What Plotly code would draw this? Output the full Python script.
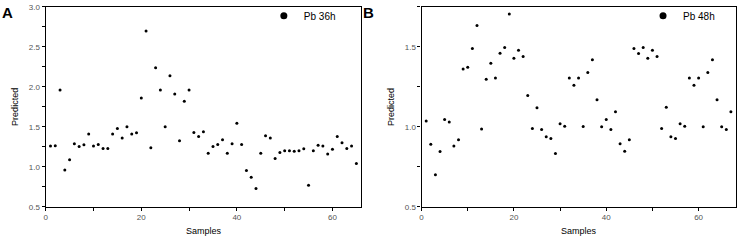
import plotly.graph_objects as go

# Panel A: Pb 36h
samples_a = list(range(1, 66))
pred_a = [1.26, 1.265, 1.96, 0.96, 1.09, 1.29, 1.255, 1.275, 1.41, 1.26,
          1.28, 1.23, 1.23, 1.41, 1.48, 1.36, 1.50, 1.41, 1.425, 1.86,
          2.70, 1.24, 2.24, 1.96, 1.50, 2.14, 1.91, 1.325, 1.82, 1.96,
          1.43, 1.38, 1.44, 1.17, 1.255, 1.28, 1.34, 1.17, 1.29, 1.545,
          1.28, 0.955, 0.87, 0.73, 1.17, 1.39, 1.36, 1.105, 1.18, 1.20,
          1.20, 1.195, 1.20, 1.225, 0.77, 1.20, 1.27, 1.26, 1.16, 1.22,
          1.38, 1.30, 1.23, 1.26, 1.04]

# Panel B: Pb 48h
samples_b = list(range(1, 68))
pred_b = [1.036, 0.892, 0.70, 0.846, 1.046, 1.03, 0.88, 0.92, 1.362, 1.373,
          1.49, 1.634, 0.986, 1.298, 1.398, 1.306, 1.46, 1.496, 1.706, 1.43,
          1.48, 1.44, 1.196, 0.99, 1.12, 0.984, 0.9375, 0.927, 0.834, 1.02,
          1.004, 1.306, 1.26, 1.306, 1.0025, 1.34, 1.42, 1.169, 1.0, 1.046,
          0.984, 1.094, 0.894, 0.848, 0.919, 1.49, 1.459, 1.496, 1.43, 1.48,
          1.44, 0.99, 1.123, 0.9375, 0.927, 1.02, 1.004, 1.306, 1.26, 1.306,
          1.0, 1.34, 1.42, 1.169, 1.0, 0.984, 1.094]

FONT = "Liberation Sans, Arial, sans-serif"

fig = go.Figure()
fig.add_trace(go.Scatter(x=samples_a, y=pred_a, mode="markers",
                         marker=dict(color="black", size=3),
                         showlegend=False, xaxis="x", yaxis="y"))
fig.add_trace(go.Scatter(x=[None], y=[None], mode="markers", name="Pb 36h",
                         marker=dict(color="black", size=7),
                         legend="legend", xaxis="x", yaxis="y"))
fig.add_trace(go.Scatter(x=samples_b, y=pred_b, mode="markers",
                         marker=dict(color="black", size=3),
                         showlegend=False, xaxis="x2", yaxis="y2"))
fig.add_trace(go.Scatter(x=[None], y=[None], mode="markers", name="Pb 48h",
                         marker=dict(color="black", size=7),
                         legend="legend2", xaxis="x2", yaxis="y2"))

axis_common = dict(showline=True, linecolor="black", linewidth=1.2, mirror=True,
                   ticks="outside", ticklen=3, tickwidth=1, tickcolor="black",
                   showgrid=False, zeroline=False, automargin=False,
                   tickfont=dict(family=FONT, size=8, color="#555555"))

fig.update_layout(
    width=737, height=241,
    margin=dict(l=0, r=0, t=0, b=0, autoexpand=False),
    paper_bgcolor="white", plot_bgcolor="white",
    font=dict(family=FONT, color="black"),
    xaxis=dict(domain=[0.062, 0.49], range=[0, 66], dtick=20, tick0=0,
               minor=dict(ticks="outside", ticklen=3, dtick=10, tickcolor="black"),
               title=dict(text="Samples", font=dict(size=9), standoff=6),
               anchor="y", **axis_common),
    yaxis=dict(domain=[0.142, 0.971], range=[0.5, 3.0], dtick=0.5, tick0=0.5,
               tickformat=".1f",
               minor=dict(ticks="outside", ticklen=3, dtick=0.25, tickcolor="black"),
               title=dict(text="Predicted", font=dict(size=9), standoff=8),
               anchor="x", **axis_common),
    xaxis2=dict(domain=[0.572, 0.998], range=[0, 68], dtick=20, tick0=0,
                minor=dict(ticks="outside", ticklen=3, dtick=10, tickcolor="black"),
                title=dict(text="Samples", font=dict(size=9), standoff=6),
                anchor="y2", **axis_common),
    yaxis2=dict(domain=[0.142, 0.971], range=[0.5, 1.75], dtick=0.5, tick0=0.5,
                tickformat=".1f",
                minor=dict(ticks="outside", ticklen=3, dtick=0.25, tickcolor="black"),
                title=dict(text="Predicted", font=dict(size=9), standoff=8),
                anchor="x2", **axis_common),
    legend=dict(x=0.358, y=0.995, xanchor="left", yanchor="top",
                bgcolor="rgba(0,0,0,0)", font=dict(size=10),
                itemwidth=30, tracegroupgap=0),
    legend2=dict(x=0.8725, y=0.995, xanchor="left", yanchor="top",
                 bgcolor="rgba(0,0,0,0)", font=dict(size=10),
                 itemwidth=30, tracegroupgap=0),
    annotations=[
        dict(text="<b>A</b>", x=0.0, y=0.99, xref="paper", yref="paper",
             xanchor="left", yanchor="top", showarrow=False,
             font=dict(size=15, family=FONT)),
        dict(text="<b>B</b>", x=0.49, y=0.99, xref="paper", yref="paper",
             xanchor="left", yanchor="top", showarrow=False,
             font=dict(size=15, family=FONT)),
    ],
)

fig.write_html("out.html", config={"displayModeBar": False},
               post_script="document.body.style.margin='0';document.body.style.overflow='hidden';")
